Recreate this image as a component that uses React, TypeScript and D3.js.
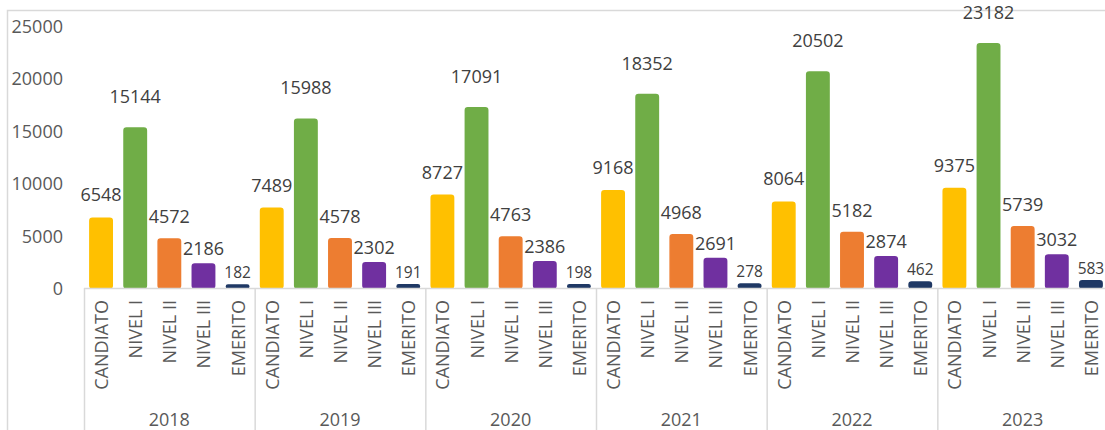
import React, { useEffect } from "react";
import * as d3 from "d3";

const years = ["2018", "2019", "2020", "2021", "2022", "2023"];
const categories = ["CANDIATO", "NIVEL I", "NIVEL II", "NIVEL III", "EMERITO"];
const candiato = [6548, 7489, 8727, 9168, 8064, 9375];
const nivel1 = [15144, 15988, 17091, 18352, 20502, 23182];
const nivel2 = [4572, 4578, 4763, 4968, 5182, 5739];
const nivel3 = [2186, 2302, 2386, 2691, 2874, 3032];
const emerito = [182, 191, 198, 278, 462, 583];
const yTicks = [0, 5000, 10000, 15000, 20000, 25000];

const seriesValues = [candiato, nivel1, nivel2, nivel3, emerito];
const colors = ["#FFC000", "#70AD47", "#ED7D31", "#7030A0", "#1F3864"];
const labelOffsets = [25, 33, 24, 17, 14];
const labelSizes = [18, 18, 18, 18, 15.5];

const W = 1105;
const H = 430;
const FONT = "'Open Sans', sans-serif";

export default function App() {
  useEffect(() => {
    document.body.style.margin = "0";
  }, []);

  const y = d3.scaleLinear().domain([0, 25000]).range([288, 26]);
  const x0 = d3.scaleBand<string>().domain(years).range([84, 1108]).paddingInner(0).paddingOuter(0);
  const x1 = d3
    .scaleBand<string>()
    .domain(categories)
    .range([0, x0.bandwidth()])
    .paddingInner(0.3)
    .paddingOuter(0.15);

  const bars: any[] = [];
  years.forEach((yr, gi) => {
    categories.forEach((cat, ci) => {
      const v = seriesValues[ci][gi];
      const bx = (x0(yr) as number) + (x1(cat) as number);
      bars.push({ yr, cat, ci, v, bx, cx: bx + x1.bandwidth() / 2 });
    });
  });

  return (
    <svg width={W} height={H} style={{ display: "block", background: "#fff" }}>
      <rect x={7.5} y={10.5} width={1110} height={440} fill="none" stroke="#d9d9d9" strokeWidth={1.5} />
      {yTicks.map((t) => (
        <text
          key={t}
          x={63}
          y={y(t)}
          textAnchor="end"
          dominantBaseline="central"
          fontFamily={FONT}
          fontSize={18}
          fill="#595959"
        >
          {t}
        </text>
      ))}
      {bars.map((b) => {
        const top = y(b.v);
        const h = y(0) - top;
        return (
          <g key={b.yr + b.cat}>
            <rect
              x={b.bx + 0.75}
              y={top - 1.2}
              width={x1.bandwidth() - 1.5}
              height={h + 1.2}
              rx={Math.min(2.5, (h + 1.2) / 2)}
              fill={colors[b.ci]}
              stroke={colors[b.ci]}
              strokeWidth={1.5}
              strokeLinejoin="round"
            />
            <text
              x={b.cx}
              y={top - labelOffsets[b.ci]}
              textAnchor="middle"
              dominantBaseline="central"
              fontFamily={FONT}
              fontSize={labelSizes[b.ci]}
              fill="#404040"
            >
              {b.v}
            </text>
            <text
              transform={`translate(${b.cx},300) rotate(-90)`}
              textAnchor="end"
              dominantBaseline="central"
              fontFamily={FONT}
              fontSize={18}
              fill="#595959"
            >
              {b.cat}
            </text>
          </g>
        );
      })}
      <line x1={84} x2={1108} y1={288.5} y2={288.5} stroke="#d9d9d9" strokeWidth={1.5} />
      {years.map((yr) => (
        <line
          key={"sep" + yr}
          x1={(x0(yr) as number) + 0.5}
          x2={(x0(yr) as number) + 0.5}
          y1={288}
          y2={H}
          stroke="#d9d9d9"
          strokeWidth={1.5}
        />
      ))}
      {years.map((yr) => (
        <text
          key={"yl" + yr}
          x={(x0(yr) as number) + x0.bandwidth() / 2}
          y={419}
          textAnchor="middle"
          dominantBaseline="central"
          fontFamily={FONT}
          fontSize={18}
          fill="#595959"
        >
          {yr}
        </text>
      ))}
    </svg>
  );
}
